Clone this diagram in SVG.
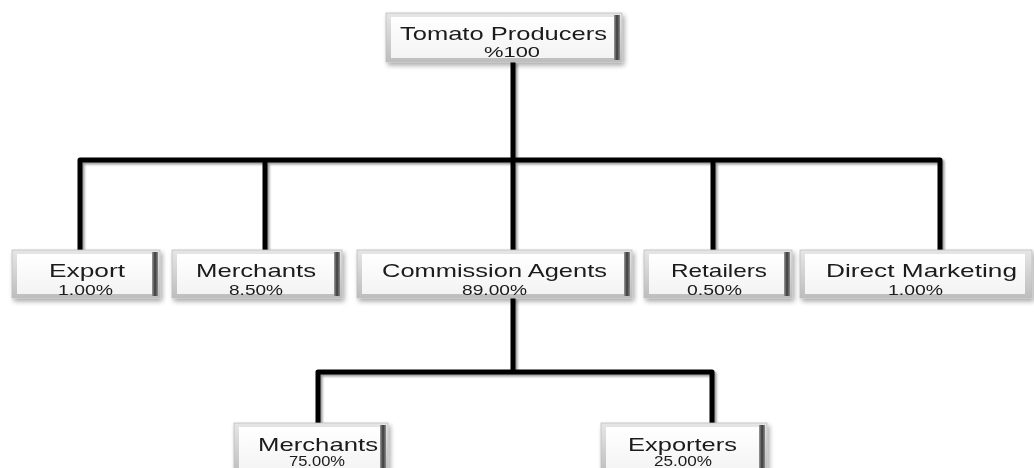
<svg xmlns="http://www.w3.org/2000/svg" width="1034" height="468" viewBox="0 0 1034 468">
<defs>
<linearGradient id="face" x1="0" y1="0" x2="0" y2="1">
<stop offset="0" stop-color="#ffffff"/>
<stop offset="1" stop-color="#f3f3f3"/>
</linearGradient>
<linearGradient id="frame" x1="0" y1="0" x2="0" y2="1">
<stop offset="0" stop-color="#e6e6e6"/>
<stop offset="1" stop-color="#bdbdbd"/>
</linearGradient>
<linearGradient id="rside" x1="0" y1="0" x2="1" y2="0">
<stop offset="0" stop-color="#9a9a9a"/>
<stop offset="0.5" stop-color="#3a3a3a"/>
<stop offset="1" stop-color="#8a8a8a"/>
</linearGradient>
<filter id="sh" x="-10%" y="-20%" width="125%" height="160%">
<feGaussianBlur in="SourceAlpha" stdDeviation="2.5"/>
<feOffset dx="2" dy="3" result="b"/>
<feComponentTransfer><feFuncA type="linear" slope="0.35"/></feComponentTransfer>
<feMerge><feMergeNode/><feMergeNode in="SourceGraphic"/></feMerge>
</filter>
<filter id="lsh" x="-5%" y="-5%" width="110%" height="110%">
<feGaussianBlur in="SourceAlpha" stdDeviation="1.2"/>
<feOffset dx="1.5" dy="1.5"/>
<feComponentTransfer><feFuncA type="linear" slope="0.4"/></feComponentTransfer>
<feMerge><feMergeNode/><feMergeNode in="SourceGraphic"/></feMerge>
</filter>
</defs>
<style>
.frame{fill:url(#frame);stroke:#bdbdbd;stroke-width:0.8}
.face{fill:url(#face)}
.rs{fill:url(#rside)}
.nm{font-family:"Liberation Sans",Arial,sans-serif;font-size:19px;fill:#1a1a1a;text-anchor:middle}
.pc{font-family:"Liberation Sans",Arial,sans-serif;font-size:14px;fill:#1a1a1a;text-anchor:middle}
.ln{fill:none;stroke:#000;stroke-width:5;stroke-linejoin:round}
</style>
<rect width="1034" height="468" fill="#ffffff"/>

<g id="connectors" filter="url(#lsh)">
<path class="ln" d="M513,62 V160"/>
<path class="ln" d="M80,250 V160 H940 V250"/>
<path class="ln" d="M265,160 V250"/>
<path class="ln" d="M513,160 V250"/>
<path class="ln" d="M713,160 V250"/>
<path class="ln" d="M513,298 V372"/>
<path class="ln" d="M318,423 V372 H712 V423"/>
</g>

<g id="tomato-producers" filter="url(#sh)">
<rect class="frame" x="386" y="13" width="236" height="49"/>
<rect class="face" x="391" y="17" width="223" height="41"/>
<rect class="rs" x="614" y="15" width="6" height="45"/>
<text class="nm" x="503.5" y="40" textLength="207" lengthAdjust="spacingAndGlyphs">Tomato Producers</text>
<text class="pc" x="512" y="57" textLength="56" lengthAdjust="spacingAndGlyphs">%100</text>
</g>

<g id="export" filter="url(#sh)">
<rect class="frame" x="12" y="250" width="148" height="48"/>
<rect class="face" x="17" y="254" width="135" height="40"/>
<rect class="rs" x="152" y="252" width="6" height="44"/>
<text class="nm" x="87" y="277" textLength="76" lengthAdjust="spacingAndGlyphs">Export</text>
<text class="pc" x="85.5" y="295" textLength="55" lengthAdjust="spacingAndGlyphs">1.00%</text>
</g>

<g id="merchants" filter="url(#sh)">
<rect class="frame" x="172" y="250" width="170" height="48"/>
<rect class="face" x="177" y="254" width="157" height="40"/>
<rect class="rs" x="334" y="252" width="6" height="44"/>
<text class="nm" x="256" y="277" textLength="120" lengthAdjust="spacingAndGlyphs">Merchants</text>
<text class="pc" x="256" y="295" textLength="54" lengthAdjust="spacingAndGlyphs">8.50%</text>
</g>

<g id="commission-agents" filter="url(#sh)">
<rect class="frame" x="357" y="250" width="275" height="48"/>
<rect class="face" x="362" y="254" width="262" height="40"/>
<rect class="rs" x="624" y="252" width="6" height="44"/>
<text class="nm" x="494.5" y="277" textLength="225" lengthAdjust="spacingAndGlyphs">Commission Agents</text>
<text class="pc" x="494.5" y="295" textLength="65" lengthAdjust="spacingAndGlyphs">89.00%</text>
</g>

<g id="retailers" filter="url(#sh)">
<rect class="frame" x="644" y="250" width="148" height="48"/>
<rect class="face" x="649" y="254" width="135" height="40"/>
<rect class="rs" x="784" y="252" width="6" height="44"/>
<text class="nm" x="719" y="277" textLength="96" lengthAdjust="spacingAndGlyphs">Retailers</text>
<text class="pc" x="714.5" y="295" textLength="55" lengthAdjust="spacingAndGlyphs">0.50%</text>
</g>

<g id="direct-marketing" filter="url(#sh)">
<rect class="frame" x="800" y="250" width="232" height="48"/>
<rect class="face" x="805" y="254" width="220" height="40"/>
<text class="nm" x="921.5" y="277" textLength="191" lengthAdjust="spacingAndGlyphs">Direct Marketing</text>
<text class="pc" x="915.5" y="295" textLength="55" lengthAdjust="spacingAndGlyphs">1.00%</text>
</g>

<g id="merchants-2" filter="url(#sh)">
<rect class="frame" x="234" y="423" width="154" height="52"/>
<rect class="face" x="239" y="427" width="141" height="46"/>
<rect class="rs" x="380" y="425" width="6" height="50"/>
<text class="nm" x="318" y="451" textLength="120" lengthAdjust="spacingAndGlyphs">Merchants</text>
<text class="pc" x="317" y="466" textLength="56" lengthAdjust="spacingAndGlyphs">75.00%</text>
</g>

<g id="exporters" filter="url(#sh)">
<rect class="frame" x="601" y="423" width="166" height="52"/>
<rect class="face" x="606" y="427" width="153" height="46"/>
<rect class="rs" x="759" y="425" width="6" height="50"/>
<text class="nm" x="682.5" y="451" textLength="109" lengthAdjust="spacingAndGlyphs">Exporters</text>
<text class="pc" x="683" y="466" textLength="58" lengthAdjust="spacingAndGlyphs">25.00%</text>
</g>
</svg>
